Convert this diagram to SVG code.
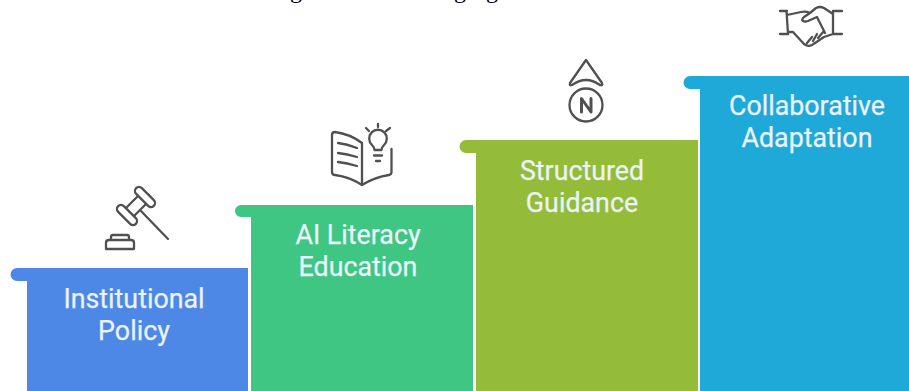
<svg xmlns="http://www.w3.org/2000/svg" width="909" height="391" viewBox="0 0 909 391">
<style>
text.l{font-family:"Roboto","Liberation Sans",sans-serif;font-size:26.800px;font-weight:400;fill:#eaf3fb;stroke:#eaf3fb;stroke-width:.25;text-anchor:middle}
.i{fill:none;stroke:#505050;stroke-width:2.300;stroke-linecap:round;stroke-linejoin:round}
text.c{font-family:"Liberation Serif",serif;font-size:24px;fill:#000}
</style>
<rect width="909" height="391" fill="#fff"/>
<g id="clipped-title"><text class="c" x="290" y="-2">g</text><text class="c" x="454" y="-2">g</text><text class="c" x="486" y="-2">g</text></g>
<g id="connectors"/>
<g id="step1">
<path d="M17 268H248V391H27V281H17a6.500 6.500 0 0 1 0-13z" fill="#4d88e6"/>
<text class="l" x="134" y="308">Institutional</text><text class="l" x="134" y="340">Policy</text>
<g class="i">
<path d="M106 249V243Q106 240 109 240H131Q134 240 134 243V249ZM111 240V237Q111 235 113 235H127Q129 235 129 237V240M126 208L138 196M134 216L146 204M141 211L168 239"/>
<rect x="-12.500" y="-4" width="25" height="8" rx="4" transform="translate(127 215) rotate(45)"/>
<rect x="-12.500" y="-4" width="25" height="8" rx="4" transform="translate(145 197) rotate(45)"/>
</g>
</g>
<g id="step2">
<path d="M241 205H473V391H251V217H241a6 6 0 0 1 0-12z" fill="#3fc682"/>
<text class="l" x="358" y="244">AI Literacy</text><text class="l" x="358" y="276">Education</text>
<path class="i" d="M362 143Q350 134 335 132Q332 132 332 135V172Q332 175 335 175Q350 177 362 185Q375 177 389 175Q391.500 174.500 391.500 172V149M362 143V185M338 143Q347 144 357 148M338 153Q347 154 357 157M338 162Q347 163 357 166M378 124V127M366 128L369 131M390 128L386 131M374.500 150Q374.500 147.500 372 145A8.800 8.800 0 1 1 384 145Q381.500 147.500 381.500 150ZM374 155.500H382M376 161H380"/>
</g>
<g id="step3">
<path d="M466 140H698V391H476V153H466a6.500 6.500 0 0 1 0-13z" fill="#94bc38"/>
<text class="l" x="582" y="180">Structured</text><text class="l" x="582" y="212">Guidance</text>
<path class="i" d="M586 60L602 83Q603 86 600 85Q586 75 572 85Q569 86 570 83Z"/>
<circle class="i" cx="586" cy="105" r="16.500"/>
<path class="i" style="stroke-width:3" d="M581.500 112V98.500L591 112V98.500"/>
</g>
<g id="step4">
<path d="M690 76H909V391H700V89H690a6.500 6.500 0 0 1 0-13z" fill="#1fa9d8"/>
<text class="l" x="807" y="115">Collaborative</text><text class="l" x="807" y="147">Adaptation</text>
<path class="i" d="M780 11H787M780 34H788M786.500 11L788 34M842 11H833M842 34H833V11M787 15L801 12Q806 11 810 13L816 8Q820 6 824 8L833 14M810 13L804 17Q801 20 803 21Q805 22 808 21L817 17L825 33M788 32L793 32L804 44Q808 47 812 45L824 37L833 34M807 43L812 37M813 41L817 34M818 38L824 31"/>
</g>
</svg>
